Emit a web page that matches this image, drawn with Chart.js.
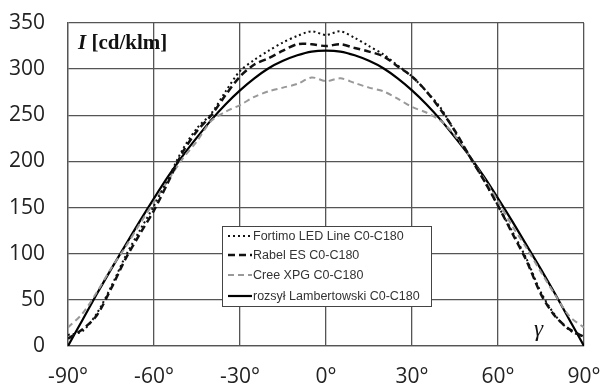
<!DOCTYPE html>
<html>
<head>
<meta charset="utf-8">
<script src="https://cdn.jsdelivr.net/npm/chart.js@4"></script>
<style>
  html, body { margin: 0; padding: 0; background: #fff; }
  #wrap { width: 601px; height: 387px; }
</style>
</head>
<body>
<div id="wrap"><canvas id="lumChart" width="601" height="387"></canvas></div>
<script>
// angle gamma in degrees
const angles = [-90,-85,-80,-75,-70,-65,-60,-55,-50,-45,-40,-35,-30,-25,-20,-15,-10,-5,0,
                5,10,15,20,25,30,35,40,45,50,55,60,65,70,75,80,85,90];

// luminous intensity I [cd/klm]
const fortimo = [12,16,35,64,97,125,152,182,213,236,252,276,298,310,320,329,336,341,337,
                 341,334,325,316,304,292,276,258,232,206,180,152,124,94,58,33,17,10];
const rabel   = [8,18,33,62,94,121,147,178,210,233,250,272,292,305,312,320,327,327,325,
                 327,323,319,314,303,292,276,256,233,206,180,152,122,92,56,32,18,10];
const cree    = [20,35,58,84,107,132,156,180,203,222,244,254,261,270,276,280,284,291,287,
                 290,285,280,276,268,259,253,244,228,206,182,157,130,106,80,55,32,20];
const lambert = [0,28,56,83,109,135,160,184,206,226,245,262,277,290,301,309,315,319,320,
                 319,315,309,301,290,277,262,245,226,206,184,160,135,109,83,56,28,0];

const xTicks = [-90,-60,-30,0,30,60,90];
const yTicks = [0,50,100,150,200,250,300,350];

const seriesNames = ['Fortimo LED Line C0-C180','Rabel ES C0-C180','Cree XPG C0-C180','rozsył Lambertowski C0-C180'];

const pts = arr => arr.map((v, i) => ({ x: angles[i], y: v }));

// legend box + axis captions drawn on top of the plot
const overlay = {
  id: 'overlay',
  afterDatasetsDraw(chart) {
    const ctx = chart.ctx;
    ctx.save();
    // legend box
    const bx = 222, by = 226, bw = 209, bh = 80;
    ctx.fillStyle = '#fff';
    ctx.fillRect(bx, by, bw, bh);
    ctx.strokeStyle = '#444';
    ctx.lineWidth = 1;
    ctx.strokeRect(bx + 0.5, by + 0.5, bw, bh);
    const rows = [236, 255, 275, 296];
    chart.data.datasets.forEach((ds, i) => {
      const y = rows[i];
      ctx.beginPath();
      ctx.strokeStyle = ds.borderColor;
      ctx.lineWidth = ds.borderWidth;
      ctx.setLineDash(ds.borderDash || []);
      ctx.moveTo(228, y);
      ctx.lineTo(252, y);
      ctx.stroke();
      ctx.setLineDash([]);
      ctx.fillStyle = '#333';
      ctx.font = '12.5px "Liberation Sans", sans-serif';
      ctx.textBaseline = 'middle';
      ctx.textAlign = 'left';
      ctx.fillText(ds.label, 253, y + 1);
    });

    // y axis caption
    ctx.fillStyle = '#111';
    ctx.textBaseline = 'alphabetic';
    ctx.font = 'italic bold 21px "Liberation Serif", serif';
    ctx.fillText('I', 78, 49);
    const w = ctx.measureText('I ').width;
    ctx.font = 'bold 21px "Liberation Serif", serif';
    ctx.fillText('[cd/klm]', 78 + w, 49);

    // x axis caption
    ctx.font = 'italic 23px "Liberation Serif", serif';
    ctx.fillText('γ', 534, 336);
    ctx.restore();
  }
};

new Chart(document.getElementById('lumChart'), {
  type: 'line',
  data: {
    datasets: [
      { label: seriesNames[0], data: pts(fortimo), borderColor: '#111', borderWidth: 2, borderDash: [2, 3] },
      { label: seriesNames[1], data: pts(rabel), borderColor: '#111', borderWidth: 2.5, borderDash: [7, 4] },
      { label: seriesNames[2], data: pts(cree), borderColor: '#999', borderWidth: 2, borderDash: [6, 4] },
      { label: seriesNames[3], data: pts(lambert), borderColor: '#000', borderWidth: 2.2 }
    ].map(d => Object.assign(d, { pointRadius: 0, tension: 0.3, fill: false }))
  },
  options: {
    responsive: false,
    animation: false,
    layout: { padding: { top: 23, right: 17, left: 0, bottom: 0 } },
    plugins: { legend: { display: false }, tooltip: { enabled: false } },
    scales: {
      x: {
        type: 'linear', min: -90, max: 90,
        afterBuildTicks: s => { s.ticks = xTicks.map(v => ({ value: v })); },
        afterFit: s => { s.height = 41; s.paddingLeft = 0; s.paddingRight = 0; },
        grid: { color: '#555', lineWidth: 1.3, drawTicks: false },
        border: { color: '#555', width: 1.3 },
        ticks: { padding: 18, color: '#222', font: { family: '"Open Sans", sans-serif', size: 21 },
                 maxRotation: 0, callback: v => v + '°' }
      },
      y: {
        min: 0, max: 350,
        afterBuildTicks: s => { s.ticks = yTicks.map(v => ({ value: v })); },
        afterFit: s => { s.width = 68; s.paddingTop = 0; s.paddingBottom = 0; },
        grid: { color: '#555', lineWidth: 1.3, drawTicks: false },
        border: { color: '#555', width: 1.3 },
        ticks: { padding: 23, color: '#222', font: { family: '"Open Sans", sans-serif', size: 21 } }
      }
    }
  },
  plugins: [overlay]
});
</script>
</body>
</html>
